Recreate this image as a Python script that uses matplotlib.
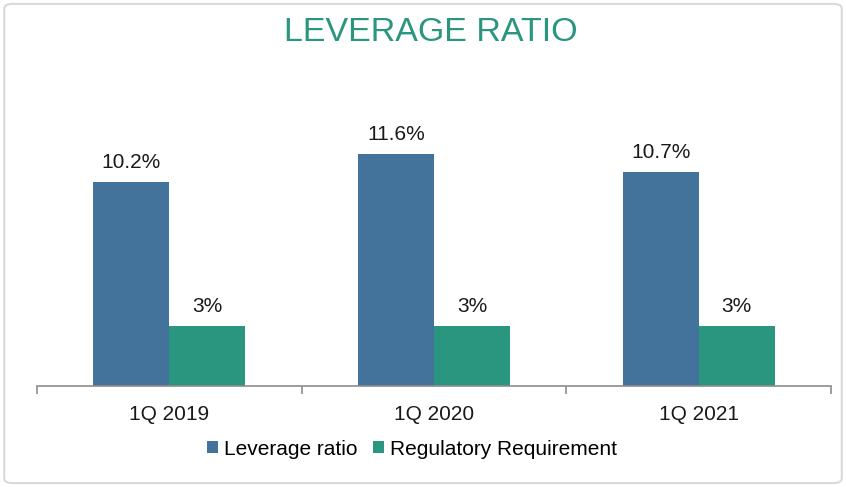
import matplotlib.pyplot as plt
from matplotlib.patches import FancyBboxPatch
import numpy as np

categories = ['1Q 2019', '1Q 2020', '1Q 2021']
leverage = [10.2, 11.6, 10.7]
regulatory = [3, 3, 3]
leverage_labels = ['10.2%', '11.6%', '10.7%']
regulatory_labels = ['3%', '3%', '3%']

blue = '#43729b'
green = '#2b967f'

plt.rcParams['font.family'] = ['Liberation Sans', 'DejaVu Sans']

fig = plt.figure(figsize=(8.46, 4.87), dpi=100, facecolor='white')
ax = fig.add_axes([0.0437, 0.2074, 0.9386, 0.575])

x = np.arange(len(categories))
w = 0.287
b1 = ax.bar(x - w/2, leverage, w, color=blue, label='Leverage ratio')
b2 = ax.bar(x + w/2, regulatory, w, color=green, label='Regulatory Requirement')

for rect, txt in zip(b1, leverage_labels):
    ax.annotate(txt, (rect.get_x() + rect.get_width()/2, rect.get_height()),
                xytext=(0, 7), textcoords='offset points',
                ha='center', va='bottom', fontsize=15, color='#1a1a1a')
for rect, txt in zip(b2, regulatory_labels):
    ax.annotate(txt, (rect.get_x() + rect.get_width()/2, rect.get_height()),
                xytext=(0, 7), textcoords='offset points',
                ha='center', va='bottom', fontsize=15, color='#1a1a1a')

ax.set_xlim(-0.5, 2.5)
ax.set_ylim(0, 14)
for s in ['top', 'right', 'left']:
    ax.spines[s].set_visible(False)
ax.spines['bottom'].set_color('#8c8c8c')
ax.spines['bottom'].set_linewidth(1.2)
ax.set_yticks([])
ax.set_xticks(x)
ax.set_xticklabels(categories, fontsize=15, color='#1a1a1a')
ax.tick_params(axis='x', which='major', length=0, pad=14)
ax.set_xticks([-0.5, 0.5, 1.5, 2.5], minor=True)
ax.tick_params(axis='x', which='minor', length=6, color='#8c8c8c', width=1.2)

fig.text(0.509, 0.933, 'LEVERAGE RATIO', ha='center', va='center',
         fontsize=24.5, color=green)

fig.legend(handles=[b1, b2], loc='center', bbox_to_anchor=(0.487, 0.078),
           ncol=2, frameon=False, fontsize=15, handlelength=0.55,
           handleheight=0.55, handletextpad=0.3, columnspacing=0.7)

border = FancyBboxPatch((0.005, 0.008), 0.99, 0.984, boxstyle='round,pad=0,rounding_size=0.01',
                        transform=fig.transFigure, fill=False,
                        edgecolor='#d9d9d9', linewidth=1.5)
fig.patches.append(border)

fig.savefig('out.png', dpi=100, facecolor='white')
